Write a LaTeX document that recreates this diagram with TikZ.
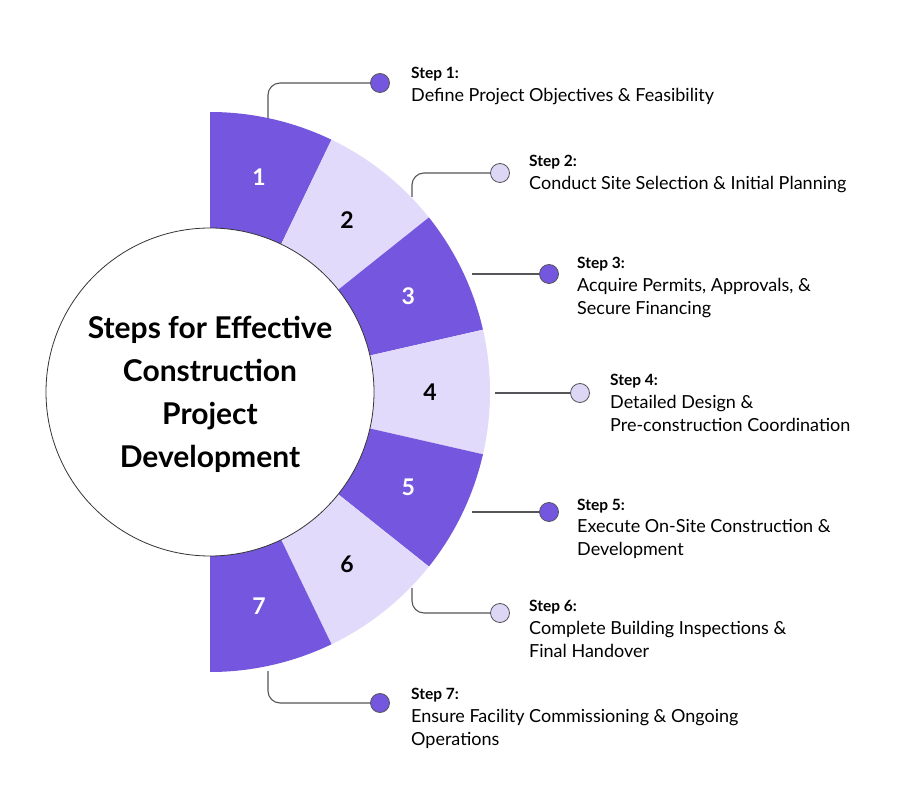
\documentclass[tikz,border=0pt]{standalone}
\usepackage{fontspec}
\setmainfont{Lato}
\usetikzlibrary{calc}
\definecolor{dpurple}{RGB}{117,86,222}
\definecolor{lpurple}{RGB}{226,218,250}
\definecolor{dotlight}{RGB}{221,215,245}
\definecolor{linegray}{RGB}{85,85,90}
\newcommand{\stephead}[1]{{\fontsize{15.5}{23}\selectfont\bfseries #1}}
\begin{document}
\begin{tikzpicture}[x=1pt,y=1pt,
  conn/.style={draw=linegray,line width=1.1pt,rounded corners=12pt},
  dotdark/.style={circle,fill=dpurple,draw=linegray,line width=0.8pt,minimum size=19pt,inner sep=0pt},
  dotlt/.style={circle,fill=dotlight,draw=linegray,line width=0.8pt,minimum size=19pt,inner sep=0pt},
  numw/.style={text=white,font=\fontsize{23}{23}\selectfont\bfseries},
  numb/.style={text=black,font=\fontsize{23}{23}\selectfont\bfseries},
  steptext/.style={anchor=base west,align=left,inner sep=0pt,text=black,font=\fontsize{18}{23}\selectfont}
]
\useasboundingbox (0,0) rectangle (900,788);
\fill[white] (0,0) rectangle (900,788);
\coordinate (C) at (210,396);
% sectors
\foreach \i/\col in {1/dpurple,2/lpurple,3/dpurple,4/lpurple,5/dpurple,6/lpurple,7/dpurple}{
  \pgfmathsetmacro{\aa}{90-(\i-1)*180/7}
  \pgfmathsetmacro{\ab}{90-\i*180/7}
  \fill[\col] (C) -- ($(C)+(\aa:280)$) arc[start angle=\aa,end angle=\ab,radius=280] -- cycle;
}
% centre circle
\node[circle,fill=white,draw=black!80,line width=0.8pt,minimum size=328pt,inner sep=0pt] (hub) at (C) {};
\node[align=center,font=\fontsize{30}{43}\selectfont\bfseries] (title) at (210,394)
  {Steps for Effective\\Construction\\Project\\Development};
% numbers
\foreach \i/\st in {1/numw,2/numb,3/numw,4/numb,5/numw,6/numb,7/numw}{
  \pgfmathsetmacro{\am}{90-(\i-0.5)*180/7}
  \node[\st] (n\i) at ($(C)+(\am:220)$) {\i};
}
% connector start points on outer rim
\coordinate (c1) at (268,670);
\coordinate (c2) at (412,591);
\coordinate (c3) at (472,514);
\coordinate (c4) at (495,395);
\coordinate (c5) at (472,276);
\coordinate (c6) at (412,200);
\coordinate (c7) at (268,117);
% dots
\node[dotdark] (d1) at (380,705) {};
\node[dotlt]   (d2) at (500,615) {};
\node[dotdark] (d3) at (549,514) {};
\node[dotlt]   (d4) at (580,395) {};
\node[dotdark] (d5) at (549,276) {};
\node[dotlt]   (d6) at (500,175) {};
\node[dotdark] (d7) at (380,85) {};
% connectors
\draw[conn] (c1) |- (d1.west);
\draw[conn] (c2) |- (d2.west);
\draw[conn] (c3) -- (d3.west);
\draw[conn] (c4) -- (d4.west);
\draw[conn] (c5) -- (d5.west);
\draw[conn] (c6) |- (d6.west);
\draw[conn] (c7) |- (d7.west);
% texts (anchored at the baseline of the last line)
\node[steptext] (t1) at (411,686) {\stephead{Step 1:}\\Define Project Objectives \& Feasibility};
\node[steptext] (t2) at (529,598) {\stephead{Step 2:}\\Conduct Site Selection \& Initial Planning};
\node[steptext] (t3) at (577,473) {\stephead{Step 3:}\\Acquire Permits, Approvals, \&\\Secure Financing};
\node[steptext] (t4) at (610,356) {\stephead{Step 4:}\\Detailed Design \&\\Pre-construction Coordination};
\node[steptext] (t5) at (577,232) {\stephead{Step 5:}\\Execute On-Site Construction \&\\Development};
\node[steptext] (t6) at (529,131) {\stephead{Step 6:}\\Complete Building Inspections \&\\Final Handover};
\node[steptext] (t7) at (411,43) {\stephead{Step 7:}\\Ensure Facility Commissioning \& Ongoing\\Operations};
\end{tikzpicture}
\end{document}
